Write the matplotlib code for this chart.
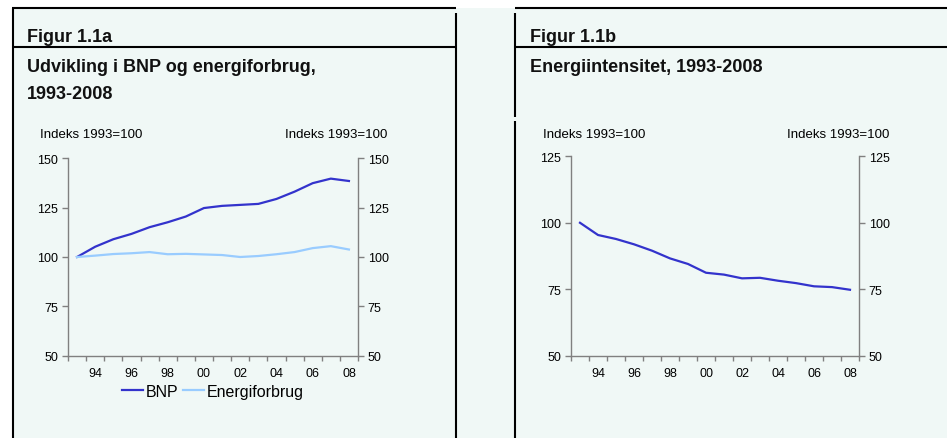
import matplotlib
matplotlib.use('Agg')
import matplotlib.pyplot as plt
import numpy as np

plt.rcParams['font.family'] = ['Liberation Sans', 'DejaVu Sans']

# Data (index 1993=100)
years = list(range(1993, 2009))
bnp = [100.0, 105.2, 109.0, 111.7, 115.1, 117.6, 120.5, 124.8, 125.9, 126.4,
       126.9, 129.4, 133.1, 137.4, 139.7, 138.5]
energi = [100.0, 100.7, 101.5, 101.9, 102.5, 101.4, 101.6, 101.3, 101.0, 100.0,
          100.5, 101.4, 102.5, 104.5, 105.5, 103.8]
intensitet = [100.0, 95.4, 93.9, 91.9, 89.5, 86.6, 84.5, 81.2, 80.5, 79.1,
              79.3, 78.2, 77.3, 76.1, 75.8, 74.8]
xlabels = ['94', '96', '98', '00', '02', '04', '06', '08']

bg = '#f0f8f6'
c_bnp = '#3333cc'
c_energi = '#99ccff'
c_axis = '#808080'

W, H = 947, 439
fig = plt.figure(figsize=(W / 100, H / 100), dpi=100, facecolor=bg)

# overlay in pixel coordinates for frame and headings
ov = fig.add_axes([0, 0, 1, 1])
ov.set_xlim(0, W)
ov.set_ylim(H, 0)
ov.axis('off')
ov.fill_between([0, W], 0, 9, color='white', lw=0)
ov.fill_between([0, 12], 0, H, color='white', lw=0)

lk = dict(color='black', lw=1.5, solid_capstyle='butt')
ov.plot([12, 456], [9, 9], **lk)
ov.plot([12.5, 12.5], [9, H], **lk)
ov.plot([456, 456], [14, H], **lk)
ov.plot([12, 456], [47.5, 47.5], **lk)
ov.plot([515, W], [9, 9], **lk)
ov.plot([515, 515], [14, 118], **lk)
ov.plot([515, 515], [122, H], **lk)
ov.plot([515, W], [47.5, 47.5], **lk)

tk = dict(fontsize=13, fontweight='bold', va='baseline', color='#111111')
ov.text(27, 41.5, 'Figur 1.1a', **tk)
ov.text(27, 71.5, 'Udvikling i BNP og energiforbrug,', **tk)
ov.text(27, 99, '1993-2008', **tk)
ov.text(530, 41.5, 'Figur 1.1b', **tk)
ov.text(530, 71.5, 'Energiintensitet, 1993-2008', **tk)

sk = dict(fontsize=9.5, va='center', color='black')
ov.text(40, 135, 'Indeks 1993=100', ha='left', **sk)
ov.text(387, 135, 'Indeks 1993=100', ha='right', **sk)
ov.text(543, 135, 'Indeks 1993=100', ha='left', **sk)
ov.text(889, 135, 'Indeks 1993=100', ha='right', **sk)


def make_axes(x0, x1, ytop, ybot):
    return fig.add_axes([x0 / W, (H - ybot) / H, (x1 - x0) / W, (ybot - ytop) / H])


def style(ax, ylim, yticks):
    x = np.arange(len(years))
    ax.set_facecolor('none')
    ax.set_xlim(-0.5, len(years) - 0.5)
    ax.set_ylim(*ylim)
    ax.set_yticks(yticks)
    ax.set_xticks(np.arange(-0.5, len(years)), minor=True)
    ax.set_xticks(x[1::2])
    ax.set_xticklabels(xlabels)
    for s in ['left', 'right', 'bottom']:
        ax.spines[s].set_color(c_axis)
        ax.spines[s].set_linewidth(1)
    ax.spines['top'].set_visible(False)
    ax.tick_params(axis='y', left=True, right=True, labelleft=True, labelright=True,
                   direction='out', length=4, width=1, color=c_axis, pad=3,
                   labelsize=9)
    ax.tick_params(axis='x', which='major', length=0, pad=8, labelsize=9)
    ax.tick_params(axis='x', which='minor', direction='out', length=3.5, width=1,
                   color=c_axis)
    return x


ax1 = make_axes(68, 358, 159.3, 356.7)
x = style(ax1, (50, 150), [50, 75, 100, 125, 150])
ax1.plot(x, bnp, color=c_bnp, lw=1.6, label='BNP')
ax1.plot(x, energi, color=c_energi, lw=1.6, label='Energiforbrug')
ax1.legend(loc='center', bbox_to_anchor=(0.5, -0.18), ncol=2, frameon=False,
           fontsize=11.5, handlelength=1.3, handletextpad=0.2, columnspacing=0.3,
           borderaxespad=0)

ax2 = make_axes(571, 859, 157.3, 356.7)
x = style(ax2, (50, 125), [50, 75, 100, 125])
ax2.plot(x, intensitet, color=c_bnp, lw=1.6)

fig.savefig('out.png', dpi=100, facecolor=bg)
